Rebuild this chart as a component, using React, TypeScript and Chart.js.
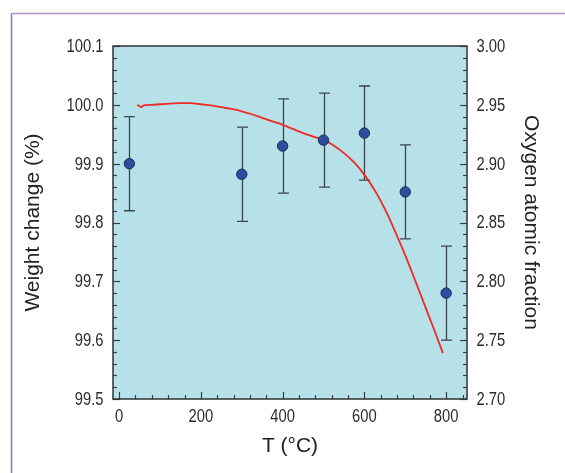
import React, { useEffect, useRef } from "react";
import { Chart, registerables } from "chart.js";

Chart.register(...registerables);

// ---- data ----
const lineT = [44, 50, 54, 60, 80, 100, 125, 150, 175, 200, 225, 250, 275, 300, 325, 350, 375, 400, 425, 450, 475, 500, 525, 550, 575, 600, 625, 650, 675, 700, 725, 750, 770, 792];
const lineW = [100.0, 99.998, 99.996, 99.999, 100.0, 100.001, 100.002, 100.003, 100.003, 100.001, 99.999, 99.996, 99.993, 99.989, 99.984, 99.978, 99.972, 99.966, 99.959, 99.952, 99.946, 99.94, 99.931, 99.918, 99.902, 99.881, 99.855, 99.823, 99.785, 99.744, 99.7, 99.655, 99.619, 99.578];

const ptT = [25, 300, 400, 500, 600, 700, 800];
const ptO = [2.9, 2.891, 2.915, 2.92, 2.926, 2.876, 2.79];
const ptErr = [0.04, 0.04, 0.04, 0.04, 0.04, 0.04, 0.04];

const xTicks = [0, 200, 400, 600, 800];
const leftTicks = [99.5, 99.6, 99.7, 99.8, 99.9, 100.0, 100.1];
const rightTicks = [2.7, 2.75, 2.8, 2.85, 2.9, 2.95, 3.0];

const X_MIN = -15, X_MAX = 851;
const X_MINOR = 40, L_MINOR = 0.02, R_MINOR = 0.01;

const TICK_FONT_CSS = "18px 'Liberation Sans', Arial, sans-serif";
const NARROW = 0.82;
const TITLE_FONT = { family: "'Liberation Sans', Arial, sans-serif", size: 21 };

function narrowText(ctx: any, text: string, x: number, y: number, align: string) {
  ctx.save();
  ctx.translate(x, y);
  ctx.scale(NARROW, 1);
  ctx.textAlign = align;
  ctx.textBaseline = "middle";
  ctx.fillText(text, 0, 0);
  ctx.restore();
}

const decorPlugin = {
  id: "decor",
  beforeDraw(chart: any) {
    const { ctx, chartArea: a } = chart;
    ctx.save();
    ctx.strokeStyle = "#b591c9";
    ctx.lineWidth = 1.5;
    ctx.beginPath();
    ctx.moveTo(11.5, 13.5);
    ctx.lineTo(565, 13.5);
    ctx.stroke();
    ctx.strokeStyle = "#9a6cbc";
    ctx.beginPath();
    ctx.moveTo(11.5, 13.5);
    ctx.lineTo(11.5, 473);
    ctx.stroke();
    ctx.fillStyle = "#b7e1e9";
    ctx.fillRect(a.left, a.top, a.right - a.left, a.bottom - a.top);
    ctx.restore();
  },
  beforeDatasetsDraw(chart: any) {
    const { ctx, chartArea: a, scales } = chart;
    const x = scales.x, yl = scales.y, yr = scales.y1;
    ctx.save();
    ctx.strokeStyle = "#3a3f44";
    ctx.lineWidth = 1.2;
    const eps = 1e-6;
    for (let v = 0; v <= X_MAX + eps; v += X_MINOR) {
      const px = Math.round(x.getPixelForValue(v)) + 0.5;
      const major = Math.abs(v / 200 - Math.round(v / 200)) < eps;
      ctx.beginPath();
      ctx.moveTo(px, a.bottom);
      ctx.lineTo(px, a.bottom - (major ? 7 : 4));
      ctx.stroke();
    }
    for (let i = 0; i <= 30; i++) {
      const py = Math.round(yl.getPixelForValue(99.5 + i * L_MINOR)) + 0.5;
      ctx.beginPath();
      ctx.moveTo(a.left, py);
      ctx.lineTo(a.left + (i % 5 === 0 ? 7 : 4), py);
      ctx.stroke();
    }
    for (let i = 0; i <= 30; i++) {
      const py = Math.round(yr.getPixelForValue(2.7 + i * R_MINOR)) + 0.5;
      ctx.beginPath();
      ctx.moveTo(a.right, py);
      ctx.lineTo(a.right - (i % 5 === 0 ? 7 : 4), py);
      ctx.stroke();
    }
    ctx.strokeStyle = "#2f3236";
    ctx.lineWidth = 1.5;
    ctx.strokeRect(a.left, a.top, a.right - a.left, a.bottom - a.top);
    // error bars
    ctx.strokeStyle = "#3d464c";
    ctx.lineWidth = 1.3;
    for (let i = 0; i < ptT.length; i++) {
      const px = Math.round(x.getPixelForValue(ptT[i])) + 0.5;
      const top = yr.getPixelForValue(ptO[i] + ptErr[i]);
      const bot = yr.getPixelForValue(ptO[i] - ptErr[i]);
      ctx.beginPath();
      ctx.moveTo(px, top);
      ctx.lineTo(px, bot);
      ctx.moveTo(px - 5.5, top);
      ctx.lineTo(px + 5.5, top);
      ctx.moveTo(px - 5.5, bot);
      ctx.lineTo(px + 5.5, bot);
      ctx.stroke();
    }
    ctx.restore();
  },
  afterDraw(chart: any) {
    const { ctx, chartArea: a, scales } = chart;
    ctx.save();
    ctx.font = TICK_FONT_CSS;
    ctx.fillStyle = "#2b2b2b";
    for (const v of xTicks) narrowText(ctx, String(v), scales.x.getPixelForValue(v), a.bottom + 18, "center");
    for (const v of leftTicks) narrowText(ctx, v.toFixed(1), a.left - 9.5, scales.y.getPixelForValue(v) + 1, "right");
    for (const v of rightTicks) narrowText(ctx, v.toFixed(2), a.right + 9.5, scales.y1.getPixelForValue(v) + 1, "left");
    ctx.restore();
  },
};

export default function App() {
  const ref = useRef<HTMLCanvasElement | null>(null);
  useEffect(() => {
    if (!ref.current) return;
    const chart = new Chart(ref.current, {
      type: "scatter",
      data: {
        datasets: [
          {
            label: "Oxygen",
            yAxisID: "y1",
            data: ptT.map((t, i) => ({ x: t, y: ptO[i] })),
            pointRadius: 5.2,
            pointBackgroundColor: "#2d4d9f",
            pointBorderColor: "#1b2b57",
            pointBorderWidth: 1,
            showLine: false,
          },
          {
            label: "Weight",
            type: "line",
            yAxisID: "y",
            data: lineT.map((t, i) => ({ x: t, y: lineW[i] })),
            borderColor: "#ee2b25",
            borderWidth: 1.8,
            pointRadius: 0,
            cubicInterpolationMode: "monotone",
            fill: false,
          } as any,
        ],
      },
      options: {
        animation: false,
        responsive: false,
        devicePixelRatio: 1,
        layout: { padding: { top: 46, left: 0, right: 0, bottom: 0 } },
        plugins: { legend: { display: false }, tooltip: { enabled: false } },
        scales: {
          x: {
            type: "linear",
            min: X_MIN,
            max: X_MAX,
            grid: { display: false },
            border: { display: false },
            afterBuildTicks: (s: any) => { s.ticks = xTicks.map((v) => ({ value: v })); },
            afterFit: (s: any) => { s.height = 74; },
            ticks: { display: false },
            title: { display: true, text: "T (°C)", font: TITLE_FONT, color: "#222", padding: { top: 0, bottom: 14 } },
          },
          y: {
            type: "linear",
            position: "left",
            min: 99.5,
            max: 100.1,
            grid: { display: false },
            border: { display: false },
            afterBuildTicks: (s: any) => { s.ticks = leftTicks.map((v) => ({ value: v })); },
            afterFit: (s: any) => { s.width = 113; },
            ticks: { display: false },
            title: { display: true, text: "Weight change (%)", font: TITLE_FONT, color: "#222", padding: { top: 21, bottom: 0 } },
          },
          y1: {
            type: "linear",
            position: "right",
            min: 2.7,
            max: 3.0,
            grid: { display: false },
            border: { display: false },
            afterBuildTicks: (s: any) => { s.ticks = rightTicks.map((v) => ({ value: v })); },
            afterFit: (s: any) => { s.width = 98; },
            ticks: { display: false },
            title: { display: true, text: "Oxygen atomic fraction", font: TITLE_FONT, color: "#222", padding: { top: 22, bottom: 0 } },
          },
        },
      },
      plugins: [decorPlugin],
    });
    return () => chart.destroy();
  }, []);
  return (
    <div style={{ position: "fixed", left: 0, top: 0, width: 565, height: 473, background: "#fff" }}>
      <canvas ref={ref} width={565} height={473} style={{ width: 565, height: 473, display: "block" }} />
    </div>
  );
}
